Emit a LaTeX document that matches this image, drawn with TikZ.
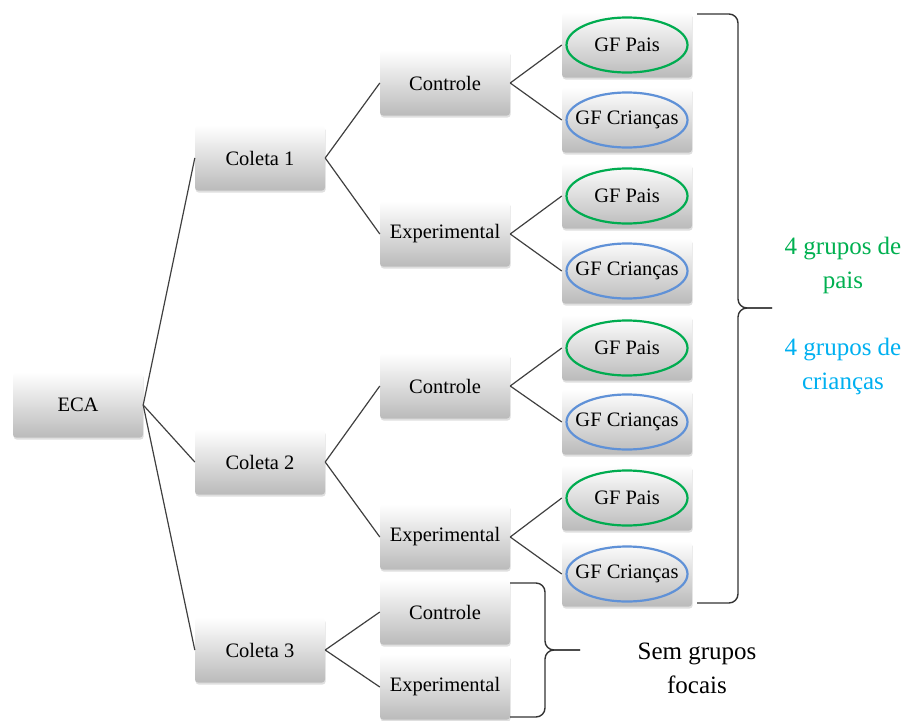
\documentclass[tikz,border=0pt]{standalone}
\usepackage{fontspec}
\setmainfont{Liberation Serif}
\usepackage{xcolor}
\usetikzlibrary{shapes,shadows,calc}

\definecolor{paisgreen}{RGB}{0,176,80}
\definecolor{kidsblue}{RGB}{0,176,240}
\definecolor{ovalgreen}{RGB}{0,172,80}
\definecolor{ovalblue}{RGB}{95,145,215}

\tikzset{
  box/.style={rectangle, rounded corners=3pt, minimum width=130pt, minimum height=65pt,
    inner sep=0pt, top color=white, bottom color=black!27,
    drop shadow={opacity=0.25, shadow xshift=0.6pt, shadow yshift=-2pt},
    font=\fontsize{20.5}{24}\selectfont},
  oval/.style={ellipse, draw, line width=2.2pt, minimum width=121pt, minimum height=55pt,
    inner sep=0pt},
  link/.style={draw=black!75, line width=1.2pt},
  bracket/.style={draw=black!80, line width=1.4pt, rounded corners=9pt},
  note/.style={align=center, font=\fontsize{25}{34}\selectfont},
}

\begin{document}
\begin{tikzpicture}[x=1pt, y=-1pt]
\useasboundingbox (0,0) rectangle (912,720);

% root and collections
\node[box] (eca) at (78,405) {ECA};
\node[box] (col1) at (260,158) {Coleta 1};
\node[box] (col2) at (260,462) {Coleta 2};
\node[box] (col3) at (260,650) {Coleta 3};

% groups
\node[box] (ctl1) at (445,83) {Controle};
\node[box] (exp1) at (445,234) {Experimental};
\node[box] (ctl2) at (445,386) {Controle};
\node[box] (exp2) at (445,537) {Experimental};
\node[box] (ctl3) at (445,612) {Controle};
\node[box] (exp3) at (445,687) {Experimental};

% focus groups
\foreach \i/\y in {1/45,2/196,3/348,4/498}{
  \node[box] (pais\i) at (627,\y) {GF Pais};
  \node[oval, draw=ovalgreen] (paisoval\i) at (pais\i) {};
}
\foreach \i/\y in {1/120,2/271,3/422,4/574}{
  \node[box] (kids\i) at (627,\y) {GF Crianças};
  \node[oval, draw=ovalblue] (kidsoval\i) at (kids\i) {};
}

% links
\draw[link] (eca.east) -- (col1.west);
\draw[link] (eca.east) -- (col2.west);
\draw[link] (eca.east) -- (col3.west);
\draw[link] (col1.east) -- (ctl1.west);
\draw[link] (col1.east) -- (exp1.west);
\draw[link] (col2.east) -- (ctl2.west);
\draw[link] (col2.east) -- (exp2.west);
\draw[link] (col3.east) -- (ctl3.west);
\draw[link] (col3.east) -- (exp3.west);
\draw[link] (ctl1.east) -- (pais1.west);
\draw[link] (ctl1.east) -- (kids1.west);
\draw[link] (exp1.east) -- (pais2.west);
\draw[link] (exp1.east) -- (kids2.west);
\draw[link] (ctl2.east) -- (pais3.west);
\draw[link] (ctl2.east) -- (kids3.west);
\draw[link] (exp2.east) -- (pais4.west);
\draw[link] (exp2.east) -- (kids4.west);

% braces
\draw[bracket] (697,14) -- (738,14) -- (738,308) -- (772,308);
\draw[bracket] (772,308) -- (738,308) -- (738,603) -- (697,603);
\draw[bracket] (510,583) -- (545,583) -- (545,650) -- (580,650);
\draw[bracket] (580,650) -- (545,650) -- (545,717) -- (510,717);

% notes
\node[note, text=paisgreen] (notepais) at (843,265) {4 grupos de\\pais};
\node[note, text=kidsblue] (notekids) at (843,366) {4 grupos de\\crianças};
\node[note] (notesem) at (697,668) {Sem grupos\\focais};
\end{tikzpicture}
\end{document}
